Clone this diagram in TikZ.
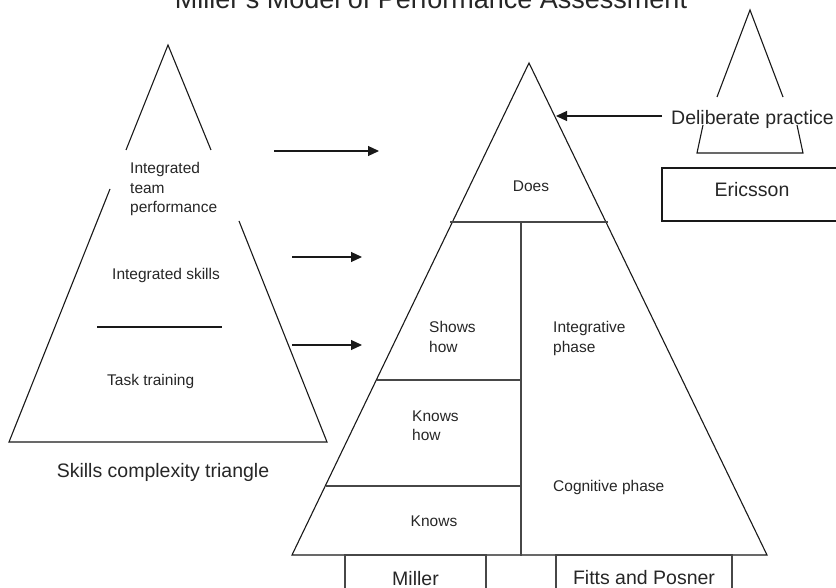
\documentclass[tikz,border=0pt]{standalone}
\usepackage{fontspec}
\setmainfont{Liberation Sans}
\usetikzlibrary{arrows.meta}
\begin{document}
\begin{tikzpicture}[x=1pt,y=-1pt,
  outline/.style={line width=1.1pt, black!90},
  innerline/.style={line width=1.3pt, black!72},
  conn/.style={line width=1.1pt, black!90, -{Triangle[length=11pt,width=10pt]}},
  small/.style={inner sep=0pt, text=black!85, font=\fontsize{15.5}{19.5}\selectfont, align=left},
  big/.style={inner sep=0pt, text=black!85, font=\fontsize{19.5}{23}\selectfont},
  titlefont/.style={inner sep=0pt, text=black!85, font=\fontsize{27}{30}\selectfont},
]
\useasboundingbox (0,0) rectangle (836,588);
\clip (0,0) rectangle (836,588);

% title
\node[titlefont, anchor=base] (title) at (431,9) {Miller's Model of Performance Assessment};

% left triangle (skills complexity)
\draw[outline] (126,150) -- (168,45) -- (211,150);
\draw[outline] (110,189) -- (9,442) -- (327,442) -- (239,221);
\draw[outline] (97,327) -- (222,327);
\node[small, anchor=north west] (itp) at (130,162.3) {Integrated\\team\\performance};
\node[small, anchor=base west] (is) at (112,279.5) {Integrated skills};
\node[small, anchor=base west] (tt) at (107,385.5) {Task training};
\node[big, anchor=base] (sct) at (163,477.5) {Skills complexity triangle};

% arrows left -> middle
\coordinate (a1s) at (274,151); \coordinate (a1t) at (379,151);
\coordinate (a2s) at (292,257); \coordinate (a2t) at (362,257);
\coordinate (a3s) at (292,345); \coordinate (a3t) at (362,345);
\draw[conn] (a1s) -- (a1t);
\draw[conn] (a2s) -- (a2t);
\draw[conn] (a3s) -- (a3t);

% main triangle (Miller)
\draw[outline] (292,555) -- (529,63) -- (767,555) -- cycle;
\draw[innerline] (450,222) -- (608,222);
\draw[innerline] (521,222) -- (521,556);
\draw[innerline] (377,380) -- (521,380);
\draw[innerline] (326,486) -- (521,486);
\node[small, anchor=base] (does) at (531,191.5) {Does};
\node[small, anchor=north west] (sh) at (429,321.3) {Shows\\how};
\node[small, anchor=north west] (kh) at (412,410.3) {Knows\\how};
\node[small, anchor=base] (kn) at (434,526.5) {Knows};
\node[small, anchor=north west] (ip) at (553,321.3) {Integrative\\phase};
\node[small, anchor=base west] (cp) at (553,491.5) {Cognitive phase};

% bottom boxes
\draw[innerline] (345,555) rectangle (486,600);
\draw[innerline] (556,555) rectangle (732,600);
\node[big, anchor=base] (miller) at (415.5,585) {Miller};
\node[big, anchor=base] (fp) at (644,584.5) {Fitts and Posner};

% right triangle (Ericsson)
\draw[outline] (717,97) -- (750,10) -- (783,97);
\draw[outline] (703,125) -- (697,153) -- (803,153) -- (797,125);
\node[big, anchor=base west] (dp) at (671,124.5) {Deliberate practice};
\coordinate (dps) at (662,116); \coordinate (dpt) at (556,116);
\draw[conn] (dps) -- (dpt);
\draw[outline] (662,168) rectangle (850,221);
\node[big, anchor=base] (eric) at (752,197) {Ericsson};
\end{tikzpicture}
\end{document}
